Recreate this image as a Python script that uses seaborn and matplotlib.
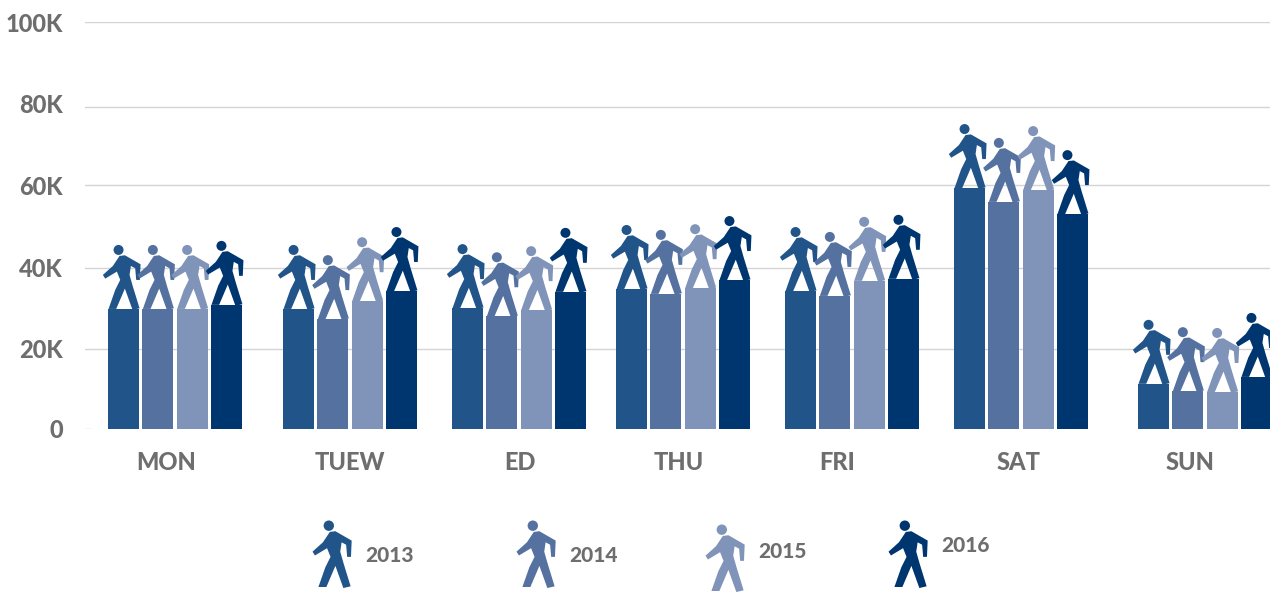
import pandas as pd
import matplotlib.pyplot as plt
import seaborn as sns
from matplotlib.path import Path
from matplotlib.transforms import ScaledTranslation

days = ['MON', 'TUEW', 'ED', 'THU', 'FRI', 'SAT', 'SUN']
years = ['2013', '2014', '2015', '2016']
v2013 = [29.5, 29.5, 29.7, 34.4, 33.9, 59.2, 11.1]
v2014 = [29.5, 27.0, 27.7, 33.2, 32.7, 55.8, 9.3]
v2015 = [29.5, 31.4, 29.2, 34.6, 36.4, 58.7, 9.1]
v2016 = [30.5, 33.9, 33.7, 36.6, 36.9, 52.8, 12.8]
tick_labels = ['0', '20K', '40K', '60K', '80K', '100K']

# layout: the groups and gridlines are not evenly spaced in the original
group_x = [175, 350, 519, 683, 852, 1021, 1205]
label_x = [166, 350, 520, 679, 837, 1019, 1190]
grid_y = [0, 19.7, 39.6, 59.9, 79.1, 100]
slot = 34.3
colors = ['#215488', '#5571a0', '#8093b8', '#003670']
grey = '#6e6e6e'
legend_x = [334, 538, 727, 910]
legend_y = [587, 587, 591, 587]
legend_text_x = [365, 569, 758, 941]
legend_text_y = [555, 555, 551, 546]

plt.rcParams['font.family'] = ['Lato', 'DejaVu Sans']

df = pd.DataFrame({
    'pos': group_x * 4,
    'value': v2013 + v2014 + v2015 + v2016,
    'year': [y for y in years for _ in days],
})

# walking figure, origin between the feet
body = [(88, 78), (104, 76), (151, 103), (149, 150), (138, 150), (135, 115), (122, 108),
        (118, 135), (128, 170), (148, 235), (127, 240), (104, 176), (78, 237), (55, 237),
        (75, 180), (90, 150), (80, 125), (45, 146), (38, 135), (68, 108), (88, 78)]
body = [(x - 100, 237 - y) for x, y in body]
head = Path.circle((-15, 177), 15)
walker = Path.make_compound_path(Path(body, closed=True), head)
walker_size = (192 / 3 * 0.72 * 2) ** 2

fig = plt.figure(figsize=(12.7, 5.95), dpi=100)
ax = fig.add_axes([85 / 1270, (595 - 429) / 595, 1185 / 1270, 407 / 595])

sns.barplot(data=df, x='pos', y='value', hue='year', hue_order=years, palette=colors,
            native_scale=True, width=4 * slot / 164, gap=0.095, saturation=1,
            errorbar=None, legend=False, ax=ax, zorder=2)

for i, year in enumerate(years):
    sub = df[df['year'] == year]
    sns.scatterplot(x=sub['pos'] + (i - 1.5) * slot, y=sub['value'], color=colors[i],
                    marker=walker, s=walker_size, linewidth=0, edgecolor='none',
                    clip_on=False, legend=False, ax=ax, zorder=3)

ax.set_xlim(85, 1270)
ax.set_ylim(0, 100)
ax.set_xlabel('')
ax.set_ylabel('')
ax.set_xticks(label_x)
ax.set_xticklabels(days, fontsize=17, color=grey, fontweight='black')
ax.set_yticks(grid_y)
ax.set_yticklabels(tick_labels, fontsize=17, color=grey, fontweight='black')
ax.tick_params(axis='x', length=0, pad=16)
ax.tick_params(axis='y', length=0, pad=16)
sns.despine(ax=ax, left=True, bottom=True)
ax.grid(axis='y', color='#d4d4d4', linewidth=1, zorder=1)
ax.set_axisbelow(True)
# only a short dash stays at zero
ax.get_ygridlines()[0].set_xdata([0, 5 / 1185])
# the 80K label sits a little above its line
lab = ax.get_yticklabels()[4]
lab.set_transform(lab.get_transform() + ScaledTranslation(0, 4 / 100, fig.dpi_scale_trans))

# legend is scattered around by hand in the original
lax = fig.add_axes([0, 0, 1, 1])
lax.set_xlim(0, 1270)
lax.set_ylim(595, 0)
lax.axis('off')
for i, year in enumerate(years):
    sns.scatterplot(x=[legend_x[i]], y=[legend_y[i]], color=colors[i], marker=walker,
                    s=walker_size * 1.08, linewidth=0, edgecolor='none', legend=False, ax=lax)
    lax.text(legend_text_x[i], legend_text_y[i], year, fontsize=15, color=grey,
             va='center', ha='left', fontweight='black')

fig.savefig('out.png', dpi=100)
